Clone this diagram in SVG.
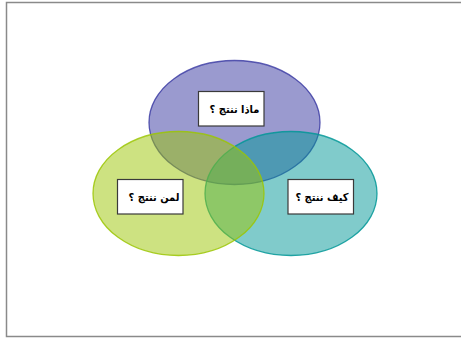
<svg xmlns="http://www.w3.org/2000/svg" width="461" height="339" viewBox="0 0 461 339">
<style>
.box{fill:#ffffff;stroke:#3a3a3a;stroke-width:1.2}
.lbl{font-family:"DejaVu Sans Condensed","DejaVu Sans",sans-serif;font-stretch:condensed;font-size:11px;font-weight:bold;fill:#000000;text-anchor:middle}
.ell{stroke-width:1.3}
</style>
<rect x="0" y="0" width="461" height="339" fill="#ffffff"/>
<rect x="6.5" y="2.5" width="470" height="334" fill="none" stroke="#8a8a8a" stroke-width="1.5"/>
<g id="top">
<ellipse class="ell" cx="234.5" cy="122.5" rx="85.5" ry="62" fill="#3535a0" fill-opacity="0.5" stroke="#3535a0" stroke-opacity="0.8"/>
</g>
<g id="right">
<ellipse class="ell" cx="291" cy="193.5" rx="86" ry="62" fill="#019797" fill-opacity="0.5" stroke="#019797" stroke-opacity="0.85"/>
</g>
<g id="left">
<ellipse class="ell" cx="178.5" cy="193.5" rx="85.5" ry="62" fill="#9bc503" fill-opacity="0.5" stroke="#9bc503" stroke-opacity="0.85"/>
</g>
<g id="label-top">
<rect class="box" x="198.5" y="91.5" width="65.5" height="34.5"/>
<text class="lbl" x="234.5" y="113">ماذا ننتج ؟</text>
</g>
<g id="label-left">
<rect class="box" x="117.5" y="179.5" width="65.5" height="34.5"/>
<text class="lbl" x="154" y="201">لمن ننتج ؟</text>
</g>
<g id="label-right">
<rect class="box" x="288" y="179.5" width="65.5" height="34.5"/>
<text class="lbl" x="322" y="201">كيف ننتج ؟</text>
</g>
<g id="connectors"></g>
</svg>
